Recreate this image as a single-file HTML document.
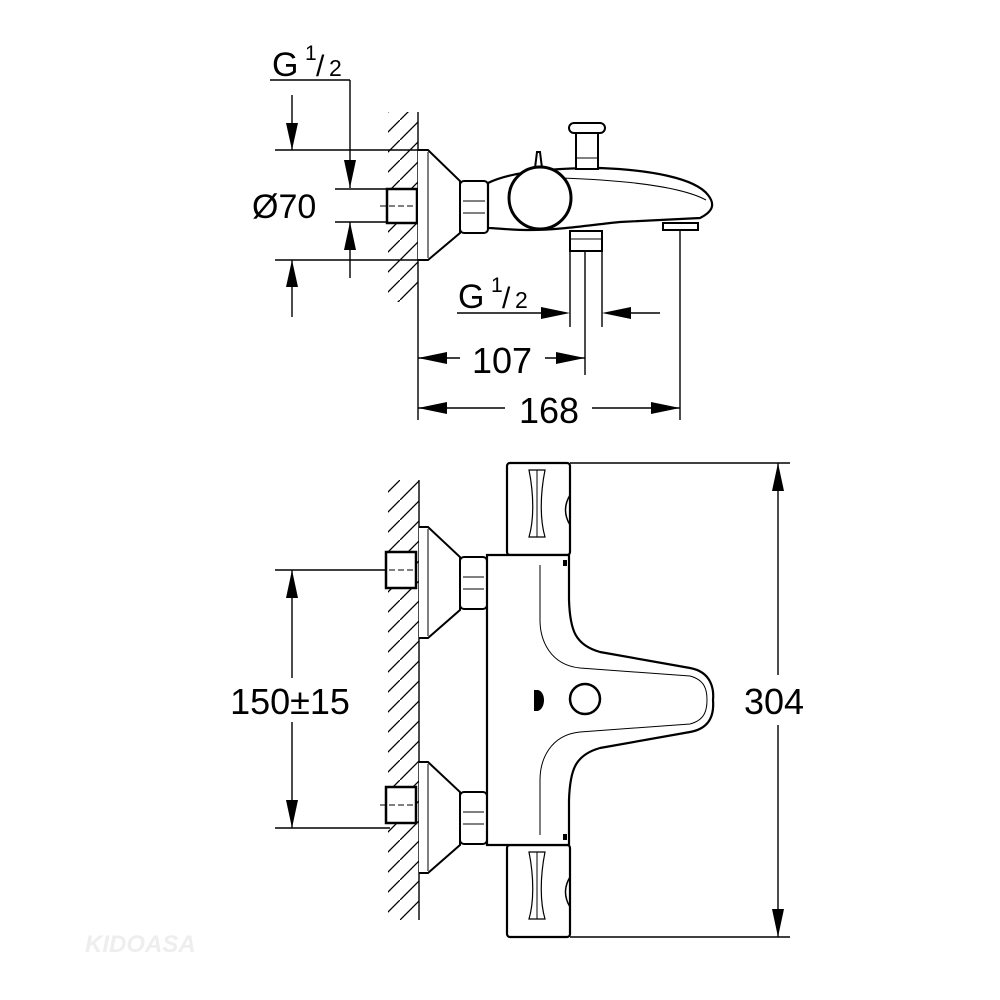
<!DOCTYPE html>
<html><head><meta charset="utf-8"><style>
html,body{margin:0;padding:0;background:#fff;}
svg{display:block;}
text{font-family:"Liberation Sans",sans-serif;fill:#000;}
</style></head><body>
<svg width="1000" height="1000" viewBox="0 0 1000 1000" xmlns="http://www.w3.org/2000/svg">
<defs>
<pattern id="h" patternUnits="userSpaceOnUse" width="20" height="20">
<line x1="0" y1="20" x2="20" y2="0" stroke="#000" stroke-width="1.3"/>
</pattern>
</defs>
<g fill="none" stroke="#000" stroke-width="1.4">
<rect x="388" y="112" width="30" height="190" fill="url(#h)" stroke="none"/>
<line x1="418" y1="112" x2="418" y2="420"/>
<line x1="275" y1="150" x2="418" y2="150"/>
<line x1="275" y1="260" x2="418" y2="260"/>
<line x1="335" y1="189" x2="390" y2="189"/>
<line x1="335" y1="222" x2="390" y2="222"/>
<line x1="270" y1="80" x2="350" y2="80"/>
<line x1="350" y1="80" x2="350" y2="188"/>
<line x1="350" y1="222" x2="350" y2="278"/>
<line x1="292" y1="95" x2="292" y2="150"/>
<line x1="292" y1="260" x2="292" y2="317"/>
<rect x="387" y="189" width="30" height="34" fill="#fff" stroke-width="2.5"/>
<line x1="380" y1="206" x2="416" y2="206" stroke-dasharray="6,3" stroke-width="1"/>
<path d="M418 150 L428 150 L460 181 L460 233 L428 260 L418 260" fill="#fff" stroke-width="2"/>
<line x1="428" y1="152" x2="428" y2="258" stroke-width="1"/>
<rect x="460" y="181" width="28" height="52" rx="4" fill="#fff" stroke-width="2"/>
<line x1="463" y1="201" x2="485" y2="201" stroke-width="1"/>
<line x1="463" y1="213" x2="485" y2="213" stroke-width="1"/>
<path d="M488 183 C510 172 550 168 600 168 C650 170 695 178 708 195 C716 205 712 212 700 218 L620 222 C590 225 560 230 530 230 C510 230 495 228 488 228 Z" fill="#fff" stroke-width="2.2"/>
<path d="M560 178 C620 180 680 186 706 200" stroke-width="1"/>
<circle cx="540" cy="198" r="31" fill="#fff" stroke-width="3"/>
<path d="M535 168 L537 152 L540 152 L542 168" stroke-width="2"/>
<rect x="576" y="133" width="22" height="36" fill="#fff" stroke-width="2"/>
<rect x="569" y="123" width="36" height="10" rx="5" fill="#fff" stroke-width="2"/>
<line x1="576" y1="158" x2="598" y2="158" stroke-width="1"/>
<rect x="570" y="231" width="32" height="20" fill="#fff" stroke-width="2"/>
<line x1="570" y1="239" x2="602" y2="239" stroke-width="1"/>
<line x1="570" y1="251" x2="570" y2="327"/>
<line x1="602" y1="251" x2="602" y2="327"/>
<line x1="585" y1="251" x2="585" y2="375"/>
<rect x="663" y="223" width="35" height="7" fill="#fff" stroke-width="2"/>
<line x1="680" y1="230" x2="680" y2="420"/>
<line x1="457" y1="313" x2="552" y2="313"/>
<line x1="620" y1="313" x2="660" y2="313"/>
<line x1="418" y1="358" x2="460" y2="358"/>
<line x1="545" y1="358" x2="585" y2="358"/>
<line x1="418" y1="408" x2="505" y2="408"/>
<line x1="592" y1="408" x2="680" y2="408"/>

<rect x="388" y="480" width="31" height="440" fill="url(#h)" stroke="none"/>
<line x1="419" y1="480" x2="419" y2="920"/>
<line x1="275" y1="570" x2="390" y2="570"/>
<line x1="275" y1="828" x2="390" y2="828"/>
<line x1="292" y1="570" x2="292" y2="678"/>
<line x1="292" y1="722" x2="292" y2="828"/>
<g id="fit">
<rect x="386" y="552" width="30" height="36" fill="#fff" stroke-width="2.5"/>
<line x1="380" y1="570" x2="416" y2="570" stroke-dasharray="6,3" stroke-width="1"/>
<path d="M419 527 L428 527 L460 557 L460 610 L428 638 L419 638" fill="#fff" stroke-width="2"/>
<line x1="428" y1="529" x2="428" y2="636" stroke-width="1"/>
<rect x="460" y="557" width="27" height="52" rx="4" fill="#fff" stroke-width="2"/>
<line x1="463" y1="577" x2="484" y2="577" stroke-width="1"/>
<line x1="463" y1="589" x2="484" y2="589" stroke-width="1"/>
</g>
<use href="#fit" transform="translate(0,235)"/>
<g id="cap">
<rect x="507" y="463" width="63" height="92" rx="3" fill="#fff" stroke-width="2.2"/>
<path d="M529 470 L545 470 C540 495 540 520 545 537 L529 537 C534 520 534 495 529 470 Z" stroke-width="1.2"/>
<line x1="537" y1="470" x2="537" y2="537" stroke-width="1"/>
<path d="M570 495 C564 505 564 515 570 525" stroke-width="1.5"/>
</g>
<use href="#cap" transform="translate(0,382)"/>
<path d="M487 555 L569 555 L569 600 C570 630 575 645 600 652 L690 668 C712 672 714 690 713 700 C714 712 712 728 690 732 L600 748 C575 755 570 770 569 800 L569 845 L487 845 Z" fill="#fff" stroke-width="2.2"/>
<path d="M540 565 L540 620 C540 640 550 665 580 668 L690 676 C705 680 707 690 707 700 C707 710 705 720 690 724 L580 732 C550 735 540 760 540 780 L540 835" stroke-width="1"/>
<rect x="563" y="560" width="4" height="6" fill="#000" stroke="none"/>
<rect x="563" y="834" width="4" height="6" fill="#000" stroke="none"/>
<circle cx="585" cy="699" r="15" stroke-width="2.5"/>
<path d="M534 690 L538 690 C546 692 546 708 538 711 L534 711 Z" fill="#000" stroke="none"/>
<line x1="570" y1="463" x2="790" y2="463"/>
<line x1="570" y1="937" x2="790" y2="937"/>
<line x1="778" y1="463" x2="778" y2="675"/>
<line x1="778" y1="725" x2="778" y2="937"/>
</g>
<g fill="#000" stroke="none">
<path d="M286 123 L298 123 L292 150 Z"/>
<path d="M286 287 L298 287 L292 260 Z"/>
<path d="M344 160 L356 160 L350 188 Z"/>
<path d="M344 250 L356 250 L350 222 Z"/>
<path d="M541 307 L541 319 L570 313 Z"/>
<path d="M631 307 L631 319 L602 313 Z"/>
<path d="M447 352 L447 364 L418 358 Z"/>
<path d="M556 352 L556 364 L585 358 Z"/>
<path d="M447 402 L447 414 L418 408 Z"/>
<path d="M651 402 L651 414 L680 408 Z"/>
<path d="M286 598 L298 598 L292 570 Z"/>
<path d="M286 800 L298 800 L292 828 Z"/>
<path d="M772 491 L784 491 L778 463 Z"/>
<path d="M772 909 L784 909 L778 937 Z"/>
</g>
<text x="272" y="76" font-size="34">G</text>
<text x="305" y="60" font-size="21">1</text>
<text x="316" y="76" font-size="30">/</text>
<text x="329" y="76" font-size="23">2</text>
<text x="252" y="218" font-size="34">Ø70</text>
<text x="458" y="308" font-size="34">G</text>
<text x="491" y="292" font-size="21">1</text>
<text x="502" y="308" font-size="30">/</text>
<text x="515" y="308" font-size="23">2</text>
<text x="502" y="373" font-size="36" text-anchor="middle">107</text>
<text x="549" y="423" font-size="36" text-anchor="middle">168</text>
<text x="290" y="714" font-size="36" text-anchor="middle">150±15</text>
<text x="774" y="714" font-size="36" text-anchor="middle">304</text>
<text x="85" y="952" font-size="24" font-style="italic" font-weight="bold" style="fill:#eee">KIDOASA</text>
</svg>
</body></html>
